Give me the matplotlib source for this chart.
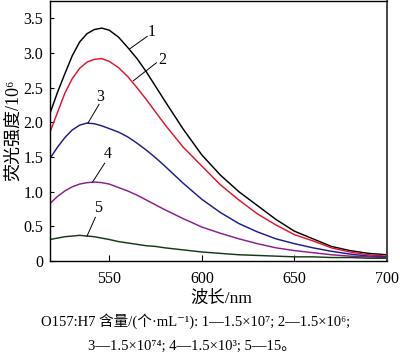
import matplotlib
matplotlib.use('Agg')
import matplotlib.pyplot as plt

# wavelength grid (nm) and fluorescence intensity (x10^6)
wavelength = [518, 522, 526, 530, 534, 538, 542, 546, 550, 555, 560, 565, 570, 575,
              580, 590, 600, 610, 620, 630, 640, 650, 660, 670, 680, 690, 700]
curve1 = [2.13, 2.43, 2.70, 2.96, 3.16, 3.28, 3.34, 3.36, 3.33, 3.23, 3.08, 2.92, 2.73, 2.52,
          2.31, 1.90, 1.53, 1.24, 1.00, 0.80, 0.60, 0.43, 0.32, 0.21, 0.15, 0.11, 0.09]
curve2 = [1.86, 2.14, 2.42, 2.63, 2.78, 2.87, 2.91, 2.92, 2.88, 2.79, 2.66, 2.50, 2.33, 2.15,
          1.97, 1.64, 1.37, 1.10, 0.88, 0.68, 0.52, 0.38, 0.29, 0.19, 0.13, 0.09, 0.07]
curve3 = [1.48, 1.64, 1.78, 1.89, 1.96, 1.99, 1.98, 1.95, 1.91, 1.86, 1.79, 1.70, 1.60, 1.49,
          1.37, 1.12, 0.89, 0.70, 0.54, 0.42, 0.32, 0.25, 0.19, 0.14, 0.10, 0.07, 0.06]
curve4 = [0.83, 0.93, 1.01, 1.07, 1.11, 1.13, 1.14, 1.13, 1.11, 1.06, 1.01, 0.95, 0.88, 0.81,
          0.74, 0.61, 0.49, 0.40, 0.32, 0.25, 0.19, 0.15, 0.12, 0.09, 0.07, 0.06, 0.05]
curve5 = [0.31, 0.33, 0.35, 0.36, 0.37, 0.36, 0.35, 0.33, 0.31, 0.28, 0.26, 0.24, 0.22, 0.21,
          0.19, 0.16, 0.13, 0.11, 0.09, 0.08, 0.07, 0.06, 0.06, 0.05, 0.05, 0.04, 0.04]

curves = [curve1, curve2, curve3, curve4, curve5]
names = ['1', '2', '3', '4', '5']
colors = ['#000000', '#e8112d', '#1c1c8e', '#8c1c8c', '#123d12']

# label text position and leader start/end points
label_xy = [(573, 3.31), (578.5, 2.90), (545, 2.37), (549, 1.54), (544, 0.77)]
leader_start = [(561, 3.06), (563, 2.60), (538.5, 1.99), (541, 1.14), (538, 0.36)]
leader_end = [(570.5, 3.24), (575.5, 2.86), (544.5, 2.26), (547.5, 1.41), (542.5, 0.63)]

xticks = [550, 600, 650, 700]
yticks = [0, 0.5, 1.0, 1.5, 2.0, 2.5, 3.0, 3.5]
yticklabels = ['0', '0.5', '1.0', '1.5', '2.0', '2.5', '3.0', '3.5']

fam = ['Liberation Serif', 'DejaVu Serif', 'Noto Sans CJK SC']
plt.rcParams['font.family'] = fam

fig = plt.figure(figsize=(4.0, 3.59), dpi=100)
ax = fig.add_axes([0.125, 0.273, 0.8425, 0.724])

for y, c in zip(curves, colors):
    ax.plot(wavelength, y, color=c, linewidth=1.05, solid_joinstyle='round')

for n, (tx, ty), (sx, sy), (ex, ey) in zip(names, label_xy, leader_start, leader_end):
    ax.plot([sx, ex], [sy, ey], color='black', linewidth=0.7)
    ax.text(tx, ty, n, fontsize=11.5, ha='center', va='center')

ax.set_xlim(518, 700)
ax.set_ylim(0, 3.75)
ax.set_xticks(xticks)
ax.set_yticks(yticks)
ax.set_yticklabels(yticklabels)
ax.tick_params(axis='x', direction='in', length=4, width=0.8, labelsize=11.5, pad=7)
ax.tick_params(axis='y', direction='in', length=3, width=0.8, labelsize=11.5, pad=5)
for s in ax.spines.values():
    s.set_linewidth(1.0)
ax.spines['right'].set_color('#444444')
ax.spines['right'].set_linewidth(1.4)

fig.text(0.035, 0.638, '荧光强度/10⁶', rotation=90, fontsize=13, ha='center', va='center')
fig.text(0.553, 0.167, '波长/nm', fontsize=12.5, ha='center', va='center')
fig.text(0.49, 0.105, 'O157:H7 含量/(个·mL⁻¹): 1—1.5×10⁷; 2—1.5×10⁶;',
         fontsize=10.5, ha='center', va='center')
fig.text(0.48, 0.036, '3—1.5×10⁷⁴; 4—1.5×10³; 5—15。',
         fontsize=10.5, ha='center', va='center')

fig.savefig('out.png', dpi=100)
